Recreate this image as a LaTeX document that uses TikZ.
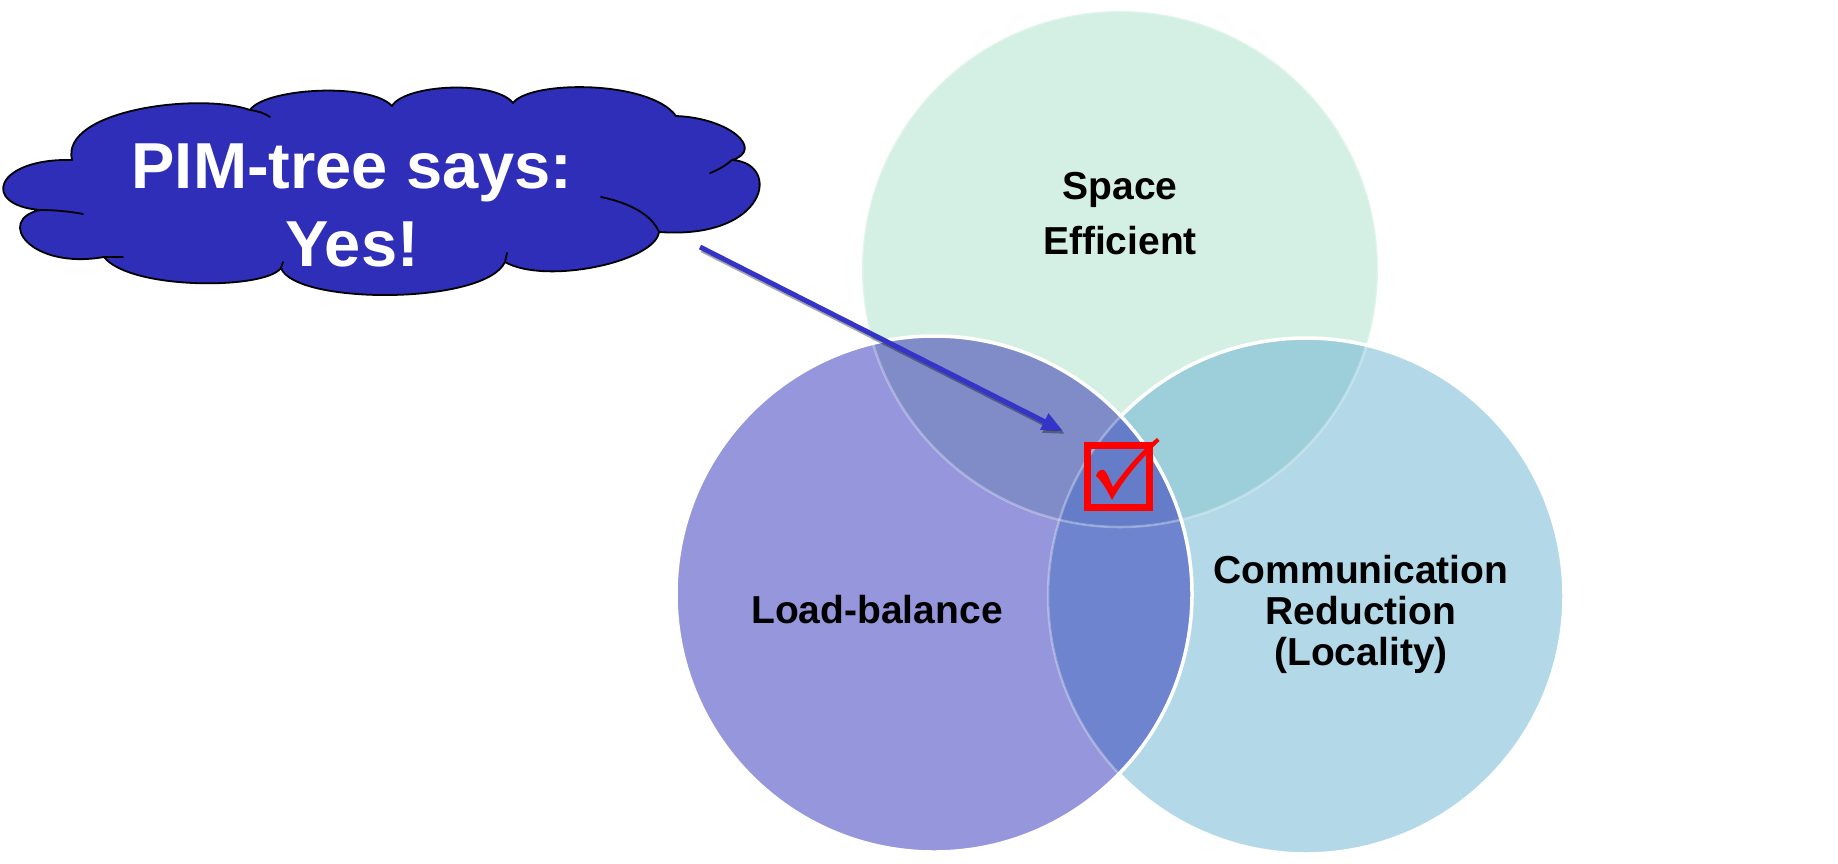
\documentclass[tikz,border=0pt]{standalone}
\usepackage{fontspec}
\setmainfont{Liberation Sans}
\usetikzlibrary{arrows.meta}
\definecolor{mint}{HTML}{D4F0E4}
\definecolor{lav}{HTML}{9696DC}
\definecolor{lblue}{HTML}{B3D9E9}
\definecolor{tlcol}{HTML}{7F8CC8}
\definecolor{trcol}{HTML}{9CCFDA}
\definecolor{lrcol}{HTML}{6E84CE}
\definecolor{ctrcol}{HTML}{657DC8}
\definecolor{cloudblue}{HTML}{2E2EB8}
\definecolor{arrowblue}{HTML}{3434C8}
\tikzset{
  vennlabel/.style={font=\bfseries\fontsize{39}{42}\selectfont, align=center, inner sep=0pt, text=black},
  cloudtextstyle/.style={font=\bfseries\fontsize{65}{78}\selectfont, align=center, inner sep=0pt, text=white},
  faintline/.style={draw=white, draw opacity=0.3, line width=2.5pt},
  whiteline/.style={draw=white, line width=3.5pt},
  cloudline/.style={draw=black, line width=1.8pt, line join=round, line cap=round},
  pimarrow/.style={draw=arrowblue, line width=5pt, -{Triangle[length=21pt,width=17pt]}},
  arrowshadow/.style={draw=black, draw opacity=0.35, fill opacity=0.35, fill=black, line width=5pt, -{Triangle[length=21pt,width=17pt]}},
  checkboxstyle/.style={draw=red, line width=7pt, minimum size=62pt, inner sep=0pt}
}
\begin{document}
\begin{tikzpicture}[x=1pt,y=-1pt]
\useasboundingbox (0,0) rectangle (1838,863);
\fill[white] (0,0) rectangle (1838,863);
\def\rr{258}
\coordinate (T) at (1120,269);
\coordinate (L) at (934,594);
\coordinate (R) at (1306,596);
% base fills
\fill[mint] (T) circle[radius=\rr];
\fill[lav] (L) circle[radius=\rr];
\fill[lblue] (R) circle[radius=\rr];
\begin{scope}
  \clip (L) circle[radius=\rr];
  \fill[lrcol] (R) circle[radius=\rr];
\end{scope}
\begin{scope}
  \clip (T) circle[radius=\rr];
  \fill[tlcol] (L) circle[radius=\rr];
  \fill[trcol] (R) circle[radius=\rr];
  \clip (L) circle[radius=\rr];
  \fill[ctrcol] (R) circle[radius=\rr];
\end{scope}
% outlines
\draw[faintline] (T) circle[radius=\rr];
\draw[faintline] (R) circle[radius=\rr];
\draw[whiteline] (R) ++(224.18:\rr) arc[start angle=224.18, end angle=496.44, radius=\rr];
\draw[whiteline] (L) circle[radius=\rr];
% labels
\node[vennlabel, font=\bfseries\fontsize{39}{55}\selectfont] (space) at (1120,214) {Space\\Efficient};
\node[vennlabel, anchor=base] (load) at (877,623.5) {Load-balance};
\node[vennlabel, font=\bfseries\fontsize{39}{41}\selectfont] (comm) at (1361,614.5) {Communication\\Reduction\\(Locality)};
% cloud
\coordinate (P1) at (72,160);
\coordinate (P2) at (250,110);
\coordinate (P3) at (392,106);
\coordinate (P4) at (513,103);
\coordinate (P5) at (676,116);
\coordinate (P6) at (732,160);
\coordinate (P7) at (659,232);
\coordinate (P8) at (505,262);
\coordinate (P9) at (281,268);
\coordinate (P10) at (104,257);
\coordinate (P11) at (40,210);
\path[cloudline, fill=cloudblue] (P1)
  .. controls (60,110) and (200,92) .. (P2)
  .. controls (265,88) and (370,82) .. (P3)
  .. controls (405,84) and (495,80) .. (P4)
  .. controls (530,80) and (650,80) .. (P5)
  .. controls (730,118) and (765,150) .. (P6)
  .. controls (782,163) and (768,240) .. (P7)
  .. controls (655,262) and (545,285) .. (P8)
  .. controls (485,305) and (295,305) .. (P9)
  .. controls (265,290) and (130,290) .. (P10)
  .. controls (30,270) and (-5,220) .. (P11)
  .. controls (-20,205) and (-5,158) .. (P1) -- cycle;
\draw[cloudline] (P2) .. controls (258,111) and (264,113) .. (270,117);
\draw[cloudline] (P6) .. controls (725,166) and (718,170) .. (710,173);
\draw[cloudline] (601,197) .. controls (630,203) and (652,215) .. (P7);
\draw[cloudline] (83,214) .. controls (68,211) and (52,210) .. (P11);
\draw[cloudline] (P10) -- (123,257);
\draw[cloudline] (P8) -- (507,253);
\draw[cloudline] (P9) -- (283,262);
\node[cloudtextstyle] (cloudtext) at (352,205) {PIM-tree says:\\Yes!};
% arrow
\coordinate (astart) at (700,247);
\coordinate (aend) at (1063,431);
\draw[arrowshadow] ([shift={(2,3)}]astart) -- ([shift={(2,3)}]aend);
\draw[pimarrow] (astart) -- (aend);
% check box
\node[checkboxstyle] (checkbox) at (1118.8,476.7) {};
\fill[red] (1096,476) .. controls (1097,471) and (1101,469) .. (1104,470)
  .. controls (1107,472) and (1110,481) .. (1113,487)
  .. controls (1125,470) and (1140,452) .. (1157,438)
  -- (1159.5,441)
  .. controls (1142,458) and (1124,478) .. (1112,500)
  .. controls (1108,492) and (1102,481) .. cycle;
\end{tikzpicture}
\end{document}
